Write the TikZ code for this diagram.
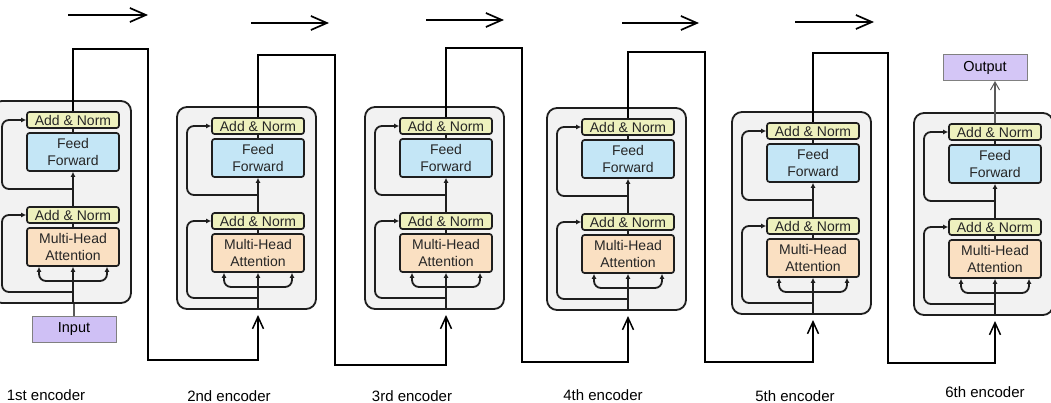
\documentclass[tikz,border=0pt]{standalone}
\usepackage{fontspec}
\setmainfont{Liberation Sans}
\usetikzlibrary{arrows.meta,calc}
\definecolor{anfill}{RGB}{238,241,190}
\definecolor{fffill}{RGB}{196,230,246}
\definecolor{mhafill}{RGB}{250,224,194}
\definecolor{outfill}{RGB}{242,242,242}
\definecolor{iofill}{RGB}{207,192,245}
\definecolor{edge}{RGB}{30,30,30}
\begin{document}
\begin{tikzpicture}[x=1pt,y=-1pt,
  outerbox/.style={draw=edge,line width=1.8pt,rounded corners=10pt,fill=outfill,minimum width=139pt,minimum height=202pt,inner sep=0pt},
  inbox/.style={draw=edge,line width=1.7pt,rounded corners=2.5pt,minimum width=92pt,inner sep=0pt,align=center,font=\fontsize{14}{17}\selectfont,text=black!85},
  anbox/.style={inbox,fill=anfill,minimum height=16pt},
  ffbox/.style={inbox,fill=fffill,minimum height=38pt},
  mhabox/.style={inbox,fill=mhafill,minimum height=38pt},
  iobox/.style={draw=gray,line width=1pt,fill=iofill,minimum width=84pt,minimum height=26pt,inner sep=0pt,font=\fontsize{14.5}{16}\selectfont},
  wire/.style={draw=edge,line width=1.8pt},
  sarrow/.style={wire,-{Latex[length=5pt,width=5pt]}},
  bigarrow/.style={draw=black,line width=2pt,-{Straight Barb[length=12pt,width=11pt,line width=1.5pt]}},
  toparrow/.style={draw=black,line width=2.1pt,-{Straight Barb[length=16pt,width=14pt,line width=1.7pt]}},
  lab/.style={font=\fontsize{15}{17}\selectfont}
]
\useasboundingbox (0,0) rectangle (1051,403);
\clip (0,0) rectangle (1051,403);

\foreach \i/\X/\Y in {1/-8/101,2/177/107,3/365/107,4/547/108,5/732/112,6/914/113}{
  \node[outerbox] (outer-\i) at ({\X+69.5},{\Y+101}) {};
  \node[anbox] (ana-\i) at ({\X+81},{\Y+19}) {Add \& Norm};
  \node[ffbox] (ff-\i) at ({\X+81},{\Y+51}) {Feed\\Forward};
  \node[anbox] (anb-\i) at ({\X+81},{\Y+114}) {Add \& Norm};
  \node[mhabox] (mha-\i) at ({\X+81},{\Y+146}) {Multi-Head\\Attention};
  \coordinate (br-\i) at ({\X+81},{\Y+180});
  \coordinate (rb-\i) at ({\X+81},{\Y+191});
  \coordinate (ra-\i) at ({\X+81},{\Y+88});
  \coordinate (lb-\i) at ({\X+10},{\Y+114});
  \coordinate (la-\i) at ({\X+10},{\Y+19});
  \coordinate (in-\i) at ({\X+81},{\Y+208});
  \coordinate (bot-\i) at ({\X+81},{\Y+202});
  % main vertical path
  \draw[sarrow] (bot-\i) -- (mha-\i.south);
  \draw[wire] (mha-\i.north) -- (anb-\i.south);
  \draw[sarrow] (anb-\i.north) -- (ff-\i.south);
  \draw[wire] (ff-\i.north) -- (ana-\i.south);
  % attention side inputs
  \draw[sarrow,rounded corners=7pt] (br-\i) -| ([xshift=-34pt]mha-\i.south);
  \draw[sarrow,rounded corners=7pt] (br-\i) -| ([xshift=34pt]mha-\i.south);
  % residual connections
  \draw[sarrow,rounded corners=7pt] (rb-\i) -| (lb-\i) -- (anb-\i.west);
  \draw[sarrow,rounded corners=7pt] (ra-\i) -| (la-\i) -- (ana-\i.west);
}

% input / output
\node[iobox] (input) at (74,329.5) {Input};
\node[iobox,fill=iofill!90!white] (output) at (985,67.5) {Output};
\draw[draw=gray!70!black,line width=1.2pt] (input.north) -- (input.north |- outer-1.south);
\draw[draw=gray!70!black,line width=1.2pt,-{Straight Barb[length=8pt,width=9pt,line width=1pt]}] (ana-6.north) -- (ana-6.north |- output.south);

% connections between encoders
\coordinate (t1) at (148,49);  \coordinate (d1) at (148,360);
\coordinate (t2) at (335,55);  \coordinate (d2) at (335,365);
\coordinate (t3) at (522,48);  \coordinate (d3) at (522,362);
\coordinate (t4) at (705,52);  \coordinate (d4) at (705,362);
\coordinate (t5) at (888,53);  \coordinate (d5) at (888,363);
\draw[bigarrow] (ana-1.north) |- (t1) -- (d1) -| (in-2);
\draw[bigarrow] (ana-2.north) |- (t2) -- (d2) -| (in-3);
\draw[bigarrow] (ana-3.north) |- (t3) -- (d3) -| (in-4);
\draw[bigarrow] (ana-4.north) |- (t4) -- (d4) -| (in-5);
\draw[bigarrow] (ana-5.north) |- (t5) -- (d5) -| (in-6);

% top arrows
\coordinate (a1s) at (68,15);  \coordinate (a1e) at (148,15);
\coordinate (a2s) at (251,23); \coordinate (a2e) at (329,23);
\coordinate (a3s) at (426,20); \coordinate (a3e) at (504,20);
\coordinate (a4s) at (622,23); \coordinate (a4e) at (699,23);
\coordinate (a5s) at (795,22); \coordinate (a5e) at (874,22);
\draw[toparrow] (a1s) -- (a1e);
\draw[toparrow] (a2s) -- (a2e);
\draw[toparrow] (a3s) -- (a3e);
\draw[toparrow] (a4s) -- (a4e);
\draw[toparrow] (a5s) -- (a5e);

% labels
\node[lab] (l1) at (46,395) {1st encoder};
\node[lab] (l2) at (229,396) {2nd encoder};
\node[lab] (l3) at (412,396) {3rd encoder};
\node[lab] (l4) at (603,395) {4th encoder};
\node[lab] (l5) at (795,396) {5th encoder};
\node[lab] (l6) at (985,392) {6th encoder};
\end{tikzpicture}
\end{document}
